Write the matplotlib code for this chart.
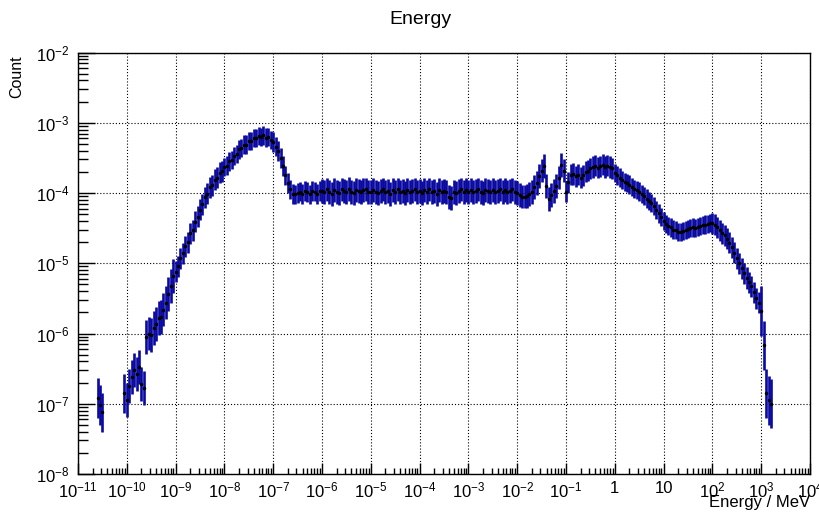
import numpy as np
import matplotlib
matplotlib.use('Agg')
import matplotlib.pyplot as plt
from matplotlib.ticker import LogLocator, FuncFormatter, NullFormatter

plt.rcParams['font.family'] = ['Liberation Sans', 'DejaVu Sans']
plt.rcParams['mathtext.fontset'] = 'custom'
plt.rcParams['mathtext.rm'] = 'Liberation Sans'
plt.rcParams['mathtext.it'] = 'Liberation Sans:italic'
plt.rcParams['mathtext.bf'] = 'Liberation Sans:bold'

nan = np.nan

# each row = one decade of energy, 20 bins per decade (log10 E = decade + 0.05*k)
decades = list(range(-11, 4))

# log10(count)
log_counts = [
    # 1e-11
    [nan, nan, nan, nan, nan, nan, nan, nan, -6.92, -7.02, -7.12, nan,
     nan, nan, nan, nan, nan, nan, nan, -6.85],
    # 1e-10
    [-6.95, -6.75, -6.62, -6.52, -6.58, -6.48, -6.72, -6.78, -6.05, -6.00,
     -6.02, -5.92, -5.86, -5.78, -5.76, -5.66, -5.56, -5.44, -5.32, -5.18],
    # 1e-9
    [-5.12, -5.04, -4.93, -4.86, -4.76, -4.70, -4.57, -4.53, -4.41, -4.34,
     -4.24, -4.16, -4.06, -4.01, -3.92, -3.89, -3.81, -3.78, -3.71, -3.69],
    # 1e-8
    [-3.63, -3.61, -3.55, -3.53, -3.47, -3.45, -3.38, -3.36, -3.31, -3.31,
     -3.26, -3.26, -3.22, -3.22, -3.19, -3.20, -3.18, -3.21, -3.20, -3.25],
    # 1e-7
    [-3.27, -3.34, -3.40, -3.50, -3.62, -3.75, -3.86, -3.95, -4.01, -4.02,
     -4.00, -3.98, -4.01, -3.97, -3.99, -4.02, -3.97, -3.98, -4.01, -3.97],
    # 1e-6
    [-3.97, -3.99, -3.95, -3.98, -4.01, -3.96, -3.98, -4.00, -3.95, -3.97,
     -3.99, -3.94, -3.98, -4.00, -3.96, -3.97, -3.99, -3.96, -3.95, -3.98],
    # 1e-5
    [-3.99, -3.96, -3.98, -4.00, -3.97, -3.95, -3.99, -3.97, -4.01, -3.96,
     -3.98, -3.95, -3.99, -3.97, -4.00, -3.96, -3.98, -3.97, -3.95, -3.99],
    # 1e-4
    [-3.97, -4.00, -3.96, -3.98, -3.95, -3.99, -3.97, -4.01, -3.96, -3.98,
     -3.97, -3.99, -4.06, -4.07, -3.98, -4.00, -3.97, -3.95, -3.98, -3.96],
    # 1e-3
    [-3.98, -3.96, -3.99, -3.97, -3.95, -3.98, -4.00, -3.96, -3.97, -3.99,
     -3.96, -3.98, -3.97, -3.95, -3.99, -3.96, -3.98, -3.97, -3.95, -3.98],
    # 1e-2
    [-4.00, -4.03, -4.05, -4.05, -4.04, -4.02, -3.98, -3.92, -3.86, -3.76,
     -3.68, -3.62, -3.90, -4.08, -4.03, -3.97, -3.90, -3.78, -3.60, -3.68],
    # 1e-1
    [-3.98, -3.85, -3.74, -3.73, -3.76, -3.74, -3.78, -3.75, -3.70, -3.68,
     -3.65, -3.63, -3.61, -3.64, -3.62, -3.60, -3.63, -3.61, -3.63, -3.65],
    # 1
    [-3.72, -3.75, -3.78, -3.81, -3.84, -3.86, -3.88, -3.91, -3.94, -3.96,
     -3.98, -4.01, -4.04, -4.08, -4.11, -4.14, -4.19, -4.24, -4.29, -4.34],
    # 10
    [-4.40, -4.44, -4.47, -4.49, -4.52, -4.53, -4.55, -4.56, -4.54, -4.53,
     -4.51, -4.50, -4.49, -4.50, -4.48, -4.47, -4.46, -4.45, -4.44, -4.43],
    # 100
    [-4.43, -4.45, -4.49, -4.53, -4.57, -4.60, -4.65, -4.71, -4.77, -4.85,
     -4.93, -5.00, -5.07, -5.14, -5.21, -5.27, -5.33, -5.41, -5.50, -5.56],
    # 1000
    [-5.68, -6.17, -6.85, -6.95, -7.00, nan, nan, nan, nan, nan,
     nan, nan, nan, nan, nan, nan, nan, nan, nan, nan],
]

# error half-width in decades, per row
err_dex = [0.28, 0.24, 0.15, 0.13, 0.14, 0.17, 0.17, 0.17, 0.17, 0.17,
           0.15, 0.13, 0.13, 0.15, 0.35]

log_e = np.array(decades)[:, None] + 0.05 * np.arange(20)
energy = 10 ** log_e.ravel()
counts = 10 ** np.array(log_counts).ravel()
err = np.repeat(err_dex, 20)
lo = counts - counts / 10 ** err
hi = counts * 10 ** err - counts

fig = plt.figure(figsize=(8.19, 5.14), dpi=100)
ax = fig.add_axes([78 / 819, 40 / 514, 732 / 819, 421.5 / 514])

ax.errorbar(energy, counts, yerr=[lo, hi], fmt='.', color='black', ms=3,
            ecolor='#0a0aa0', elinewidth=1.9, capsize=0, zorder=3)

ax.set_xscale('log')
ax.set_yscale('log')
ax.set_xlim(1e-11, 1e4)
ax.set_ylim(1e-8, 1e-2)


def root_label(v, pos):
    n = int(round(np.log10(v)))
    if n == 0:
        return '1'
    if n == 1:
        return '10'
    return r'$10^{%d}$' % n


for axis in (ax.xaxis, ax.yaxis):
    axis.set_major_locator(LogLocator(base=10, numticks=30))
    axis.set_minor_locator(LogLocator(base=10, subs=np.arange(2, 10), numticks=300))
    axis.set_major_formatter(FuncFormatter(root_label))
    axis.set_minor_formatter(NullFormatter())

ax.tick_params(which='both', direction='in', top=False, right=False,
               width=1, labelsize=12, colors='black')
ax.tick_params(axis='x', which='major', length=8, pad=5)
ax.tick_params(axis='x', which='minor', length=4)
ax.tick_params(axis='y', which='major', length=12, pad=6)
ax.tick_params(axis='y', which='minor', length=7)

ax.grid(True, which='major', color='black', linestyle=(0, (1, 1.8)), linewidth=0.8)
ax.set_axisbelow(True)
for s in ax.spines.values():
    s.set_linewidth(1.0)

fig.text(420 / 819, 1 - 19 / 514, 'Energy', ha='center', va='center', fontsize=14)
fig.text(17 / 819, 1 - 55 / 514, 'Count', rotation=90, ha='center', va='top', fontsize=11.5)
fig.text(810 / 819, 1 - 502 / 514, 'Energy / MeV', ha='right', va='center', fontsize=12)

fig.savefig('out.png', dpi=100)
